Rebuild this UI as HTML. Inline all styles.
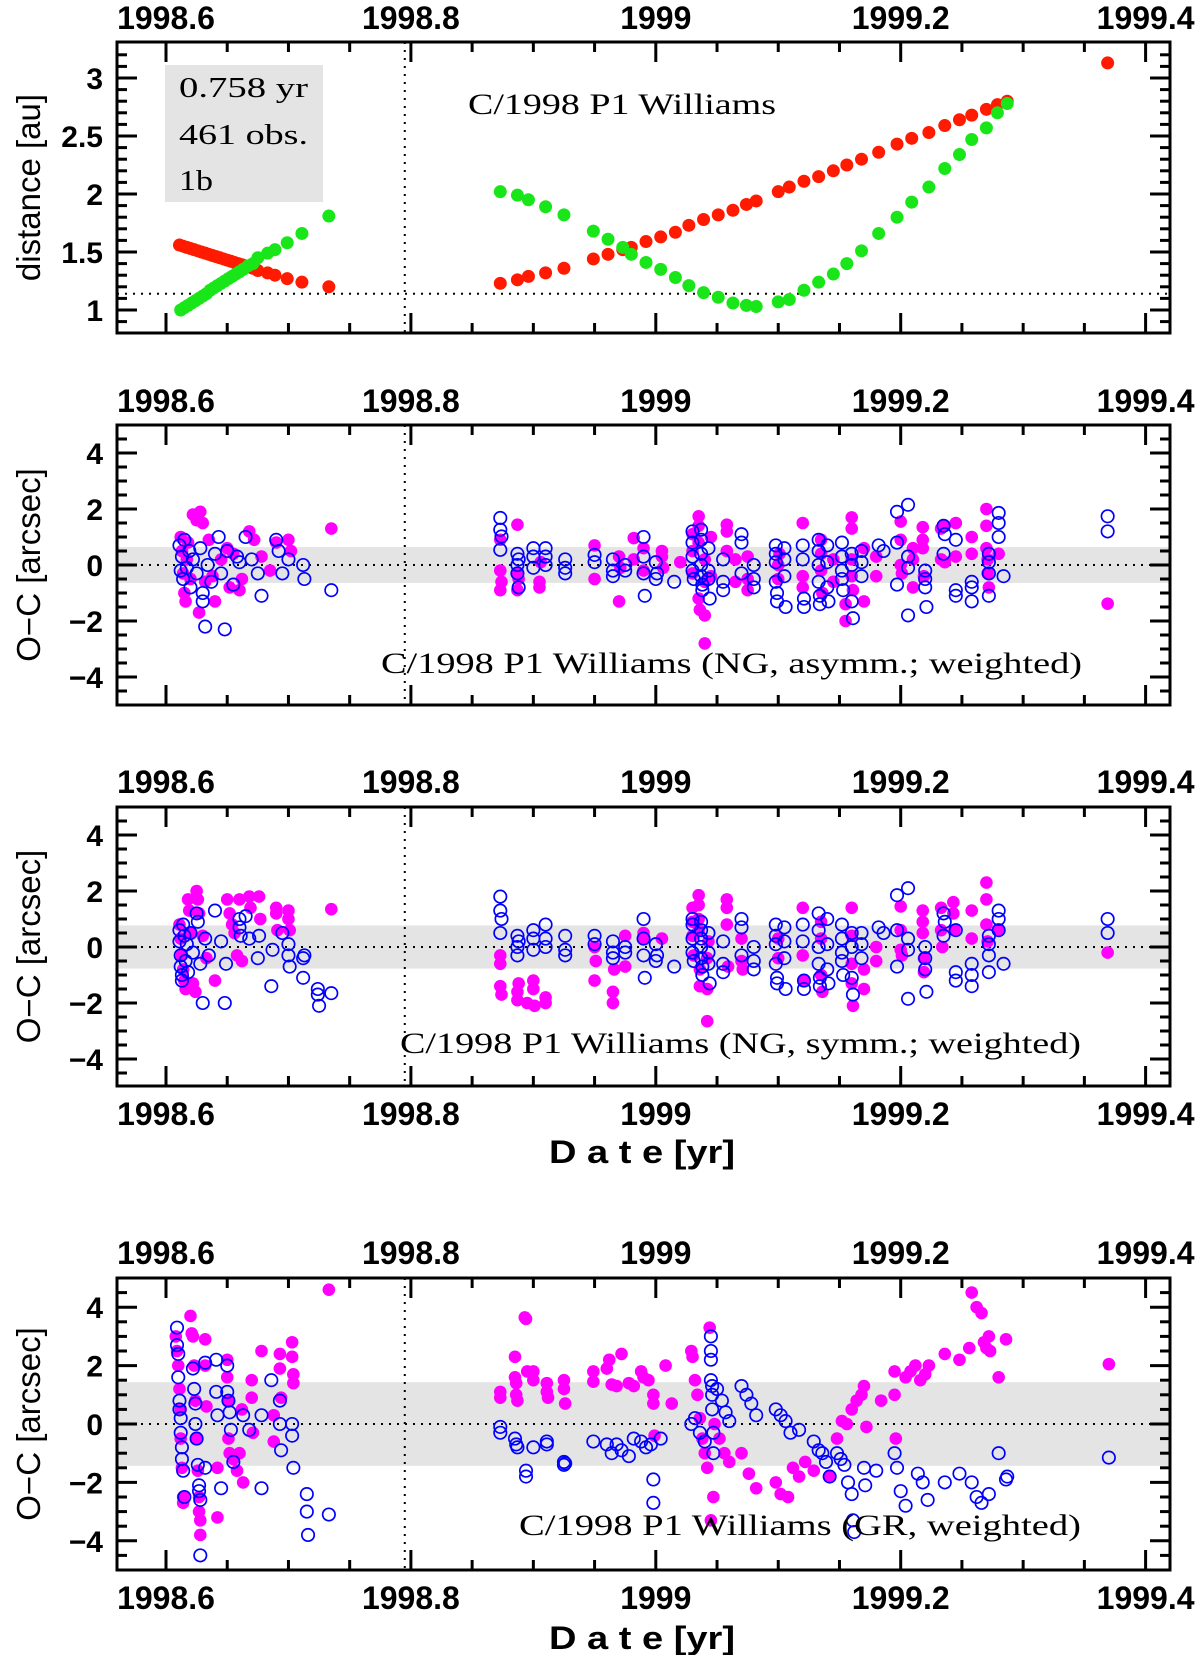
<!DOCTYPE html>
<html><head><meta charset="utf-8">
<style>
html,body{margin:0;padding:0;background:#fff;}
svg{display:block;}
.tk{font-family:"Liberation Sans",sans-serif;font-weight:bold;}
.sr{font-family:"Liberation Serif",serif;}
</style></head>
<body>
<svg id="fig" width="1200" height="1655" viewBox="0 0 1200 1655" xmlns="http://www.w3.org/2000/svg"></svg>
<script>
// ---------- DATA ----------
const xTickLabels = ["1998.6","1998.8","1999","1999.2","1999.4"];
const xTickYears = [1998.6,1998.8,1999.0,1999.2,1999.4];
const distTickLabels = ["1","1.5","2","2.5","3"];
const ocTickLabels = ["-4","-2","0","2","4"];
const perihelionLine = 1998.795;
const distRefLine = 1.14;
const bandP2 = 0.64, bandP3 = 0.77, bandP4 = 1.43;

// Panel 1: heliocentric (red) and geocentric (green) distance
const distRed = [[1998.611,1.56],[1998.614,1.55],[1998.617,1.54],[1998.620,1.53],[1998.623,1.52],[1998.626,1.51],[1998.629,1.50],[1998.632,1.49],[1998.635,1.48],[1998.638,1.47],[1998.641,1.46],[1998.644,1.45],[1998.647,1.44],[1998.650,1.43],[1998.653,1.42],[1998.656,1.41],[1998.659,1.40],[1998.662,1.39],[1998.665,1.38],[1998.668,1.37],[1998.671,1.36],[1998.675,1.34],[1998.683,1.32],[1998.689,1.30],[1998.699,1.27],[1998.711,1.24],[1998.733,1.20],
[1998.873,1.23],[1998.887,1.26],[1998.896,1.29],[1998.910,1.32],[1998.925,1.36],[1998.949,1.44],[1998.961,1.48],[1998.973,1.52],[1998.980,1.54],[1998.992,1.59],[1999.004,1.63],[1999.016,1.67],[1999.027,1.73],[1999.039,1.78],[1999.051,1.82],[1999.063,1.86],[1999.074,1.91],[1999.082,1.94],[1999.100,2.02],[1999.109,2.06],[1999.121,2.11],[1999.133,2.15],[1999.145,2.20],[1999.156,2.25],[1999.168,2.30],[1999.182,2.36],[1999.197,2.43],[1999.209,2.48],[1999.223,2.53],[1999.236,2.59],[1999.248,2.64],[1999.258,2.68],[1999.270,2.73],[1999.279,2.77],[1999.287,2.80],[1999.369,3.13]];
const distGreen = [[1998.612,1.00],[1998.615,1.02],[1998.618,1.04],[1998.621,1.06],[1998.624,1.08],[1998.627,1.10],[1998.630,1.12],[1998.633,1.14],[1998.636,1.17],[1998.639,1.19],[1998.642,1.21],[1998.645,1.23],[1998.648,1.25],[1998.651,1.27],[1998.654,1.29],[1998.657,1.31],[1998.660,1.33],[1998.663,1.35],[1998.667,1.38],[1998.671,1.40],[1998.675,1.45],[1998.683,1.49],[1998.689,1.52],[1998.699,1.58],[1998.711,1.66],[1998.733,1.81],
[1998.873,2.02],[1998.887,1.99],[1998.896,1.95],[1998.910,1.89],[1998.925,1.82],[1998.949,1.68],[1998.961,1.61],[1998.973,1.54],[1998.980,1.48],[1998.992,1.41],[1999.004,1.35],[1999.016,1.28],[1999.027,1.21],[1999.039,1.15],[1999.051,1.11],[1999.063,1.06],[1999.074,1.04],[1999.082,1.03],[1999.100,1.07],[1999.109,1.09],[1999.121,1.17],[1999.133,1.24],[1999.145,1.31],[1999.156,1.40],[1999.168,1.51],[1999.182,1.66],[1999.197,1.80],[1999.209,1.93],[1999.223,2.06],[1999.236,2.22],[1999.248,2.34],[1999.258,2.47],[1999.270,2.57],[1999.279,2.70],[1999.287,2.78]];

// Panel 2: NG asymm
const p2Mag = [[1998.612,1.0],[1998.613,0.5],[1998.614,-0.3],[1998.615,-1.0],[1998.616,-1.3],[1998.617,0.2],[1998.618,0.8],[1998.620,-0.5],[1998.622,1.8],[1998.625,1.6],[1998.628,1.9],[1998.630,1.5],[1998.627,-1.7],[1998.632,-0.6],[1998.635,0.9],[1998.638,-0.4],[1998.640,-1.3],[1998.645,0.2],[1998.650,0.6],[1998.652,-0.8],[1998.655,0.4],[1998.660,-0.9],[1998.662,-0.5],[1998.668,1.2],[1998.672,0.9],[1998.678,0.3],[1998.685,-0.2],[1998.690,0.8],[1998.700,0.9],[1998.702,0.5],[1998.735,1.3],
[1998.873,0.9],[1998.873,-0.2],[1998.873,-0.9],[1998.874,-0.6],[1998.887,1.44],[1998.887,-0.3],[1998.887,-0.9],[1998.888,-0.5],[1998.905,-0.8],[1998.905,-0.6],[1998.906,0.1],[1998.950,0.7],[1998.950,-0.5],[1998.970,-1.3],[1998.970,0.3],[1998.971,-0.1],[1998.982,0.96],[1998.982,0.2],[1998.990,0.6],[1998.990,-0.2],[1999.005,0.3],[1999.005,0.5],[1999.006,-0.1],[1999.020,0.1],[1999.030,1.1],[1999.030,0.5],[1999.030,-0.3],[1999.035,1.74],[1999.035,1.4],[1999.035,0.8],[1999.035,-1.2],[1999.036,-1.6],[1999.040,0.2],[1999.040,-1.8],[1999.040,-0.6],[1999.040,-2.8],[1999.045,1.0],[1999.045,-0.4],[1999.058,1.44],[1999.058,1.2],[1999.058,0.5],[1999.065,0.2],[1999.065,-0.6],[1999.075,-0.9],[1999.075,-0.5],[1999.075,0.3],[1999.100,0.0],[1999.100,-0.5],[1999.101,0.4],[1999.120,1.5],[1999.120,-0.4],[1999.120,-0.8],[1999.135,0.9],[1999.135,0.4],[1999.135,-0.2],[1999.136,-1.0],[1999.145,-0.6],[1999.145,0.2],[1999.155,-2.0],[1999.155,-1.4],[1999.160,1.7],[1999.160,1.3],[1999.160,0.2],[1999.160,-0.4],[1999.161,-0.9],[1999.170,0.6],[1999.170,-1.3],[1999.180,0.3],[1999.180,-0.4],[1999.200,1.55],[1999.200,0.9],[1999.200,0.0],[1999.201,-0.3],[1999.210,0.6],[1999.210,0.2],[1999.210,-0.8],[1999.218,1.35],[1999.218,0.9],[1999.218,0.6],[1999.219,-0.4],[1999.233,1.3],[1999.233,0.2],[1999.236,1.4],[1999.236,0.1],[1999.245,1.5],[1999.245,0.3],[1999.258,1.0],[1999.258,0.4],[1999.270,2.0],[1999.270,1.4],[1999.270,0.6],[1999.271,0.2],[1999.271,-0.3],[1999.272,-0.8],[1999.280,0.4],[1999.369,-1.38]];
const p2Blue = [[1998.611,0.7],[1998.612,-0.2],[1998.613,0.3],[1998.614,-0.5],[1998.615,0.9],[1998.617,-0.1],[1998.619,0.5],[1998.620,-0.8],[1998.622,0.2],[1998.625,-0.3],[1998.628,0.6],[1998.630,-1.0],[1998.630,-1.3],[1998.632,-2.2],[1998.634,0.0],[1998.637,-0.6],[1998.640,0.4],[1998.643,1.0],[1998.645,-0.3],[1998.648,-2.3],[1998.650,0.5],[1998.655,-0.7],[1998.658,0.3],[1998.660,0.1],[1998.665,1.0],[1998.670,0.2],[1998.675,-0.3],[1998.678,-1.1],[1998.690,0.9],[1998.692,0.5],[1998.695,-0.3],[1998.700,0.2],[1998.712,0.0],[1998.713,-0.5],[1998.735,-0.9],
[1998.873,1.68],[1998.873,1.26],[1998.874,1.02],[1998.873,0.54],[1998.887,0.4],[1998.887,0.0],[1998.887,-0.3],[1998.888,0.2],[1998.888,-0.8],[1998.900,0.6],[1998.900,0.3],[1998.900,-0.1],[1998.910,0.6],[1998.910,0.3],[1998.910,0.0],[1998.926,0.2],[1998.926,-0.1],[1998.926,-0.3],[1998.950,0.36],[1998.950,0.1],[1998.965,0.2],[1998.965,-0.2],[1998.965,-0.4],[1998.975,0.0],[1998.975,-0.2],[1998.990,1.0],[1998.990,0.3],[1998.990,-0.3],[1998.991,-1.1],[1999.000,0.1],[1999.000,-0.5],[1999.001,-0.3],[1999.015,-0.6],[1999.030,1.2],[1999.030,0.8],[1999.030,0.3],[1999.030,-0.2],[1999.031,-0.5],[1999.037,1.26],[1999.037,0.9],[1999.037,0.4],[1999.037,0.0],[1999.037,-0.4],[1999.038,-0.7],[1999.038,-0.9],[1999.043,0.6],[1999.043,-0.2],[1999.043,-0.5],[1999.044,-1.2],[1999.055,0.2],[1999.055,-0.6],[1999.055,-0.9],[1999.070,1.1],[1999.070,0.8],[1999.070,-0.3],[1999.080,0.0],[1999.080,-0.5],[1999.080,-0.8],[1999.098,0.7],[1999.098,0.4],[1999.098,0.1],[1999.098,-0.6],[1999.099,-1.0],[1999.099,-1.3],[1999.105,0.6],[1999.105,0.2],[1999.105,-0.4],[1999.106,-1.5],[1999.120,0.7],[1999.120,0.2],[1999.121,-1.2],[1999.121,-1.5],[1999.133,0.9],[1999.133,0.5],[1999.133,0.0],[1999.133,-0.6],[1999.134,-1.1],[1999.134,-1.4],[1999.140,0.7],[1999.140,0.1],[1999.140,-0.8],[1999.141,-1.3],[1999.152,0.8],[1999.152,0.3],[1999.152,-0.2],[1999.152,-0.5],[1999.153,-0.9],[1999.160,0.4],[1999.160,0.0],[1999.160,-1.3],[1999.161,-1.9],[1999.168,0.5],[1999.168,0.1],[1999.168,-0.4],[1999.182,0.7],[1999.186,0.5],[1999.197,1.9],[1999.197,0.8],[1999.197,-0.7],[1999.206,2.15],[1999.206,0.3],[1999.206,-0.1],[1999.206,-1.8],[1999.220,-0.2],[1999.220,-0.5],[1999.220,-0.8],[1999.221,-1.5],[1999.235,0.4],[1999.235,1.4],[1999.236,1.1],[1999.245,0.9],[1999.245,-0.9],[1999.245,-1.1],[1999.258,-0.6],[1999.258,-0.8],[1999.258,-1.3],[1999.272,0.4],[1999.272,0.1],[1999.272,-0.3],[1999.272,-1.1],[1999.280,1.86],[1999.280,1.5],[1999.280,1.0],[1999.284,-0.4],[1999.369,1.74],[1999.369,1.2]];

// Panel 3: NG symm
const p3Mag = [[1998.611,0.8],[1998.612,0.3],[1998.613,-0.3],[1998.614,-0.8],[1998.615,-1.2],[1998.616,-1.5],[1998.618,1.7],[1998.619,1.3],[1998.620,0.5],[1998.622,-1.3],[1998.624,-1.6],[1998.625,2.0],[1998.626,1.7],[1998.627,1.2],[1998.630,0.4],[1998.633,-0.4],[1998.640,-1.2],[1998.650,1.7],[1998.652,1.2],[1998.654,0.8],[1998.656,0.5],[1998.658,-0.3],[1998.660,1.7],[1998.662,-0.5],[1998.668,1.8],[1998.669,1.4],[1998.676,1.8],[1998.677,1.0],[1998.690,1.4],[1998.690,1.2],[1998.691,0.6],[1998.700,1.3],[1998.700,1.0],[1998.701,0.6],[1998.735,1.35],
[1998.873,-0.3],[1998.873,-0.6],[1998.873,-1.4],[1998.874,-1.7],[1998.887,-1.6],[1998.887,-1.9],[1998.888,-1.3],[1998.895,-2.0],[1998.900,-1.2],[1998.900,-1.5],[1998.901,-2.1],[1998.910,-2.0],[1998.910,-1.8],[1998.950,-1.2],[1998.950,0.0],[1998.951,-0.5],[1998.965,-1.6],[1998.965,-2.0],[1998.966,-0.8],[1998.975,-0.7],[1998.975,0.4],[1998.990,0.3],[1998.990,0.5],[1999.005,0.3],[1999.030,1.4],[1999.030,0.9],[1999.030,0.4],[1999.031,-0.3],[1999.035,1.85],[1999.035,1.5],[1999.035,1.0],[1999.035,0.6],[1999.036,-0.8],[1999.036,-1.4],[1999.042,-2.65],[1999.042,-1.5],[1999.042,-0.4],[1999.043,0.2],[1999.058,1.7],[1999.058,1.4],[1999.058,0.8],[1999.059,-0.7],[1999.070,0.3],[1999.070,-0.5],[1999.071,-0.8],[1999.100,0.3],[1999.100,-0.4],[1999.120,1.4],[1999.120,-0.3],[1999.121,-1.2],[1999.135,0.9],[1999.135,0.3],[1999.135,-1.0],[1999.136,-1.6],[1999.160,1.4],[1999.160,0.4],[1999.160,-0.6],[1999.160,-1.3],[1999.161,-2.1],[1999.170,-0.8],[1999.170,-1.5],[1999.180,0.0],[1999.180,-0.5],[1999.200,1.45],[1999.200,0.6],[1999.200,-0.1],[1999.201,-0.3],[1999.218,1.3],[1999.218,0.9],[1999.218,0.5],[1999.219,-0.4],[1999.219,-0.9],[1999.233,1.4],[1999.233,0.6],[1999.234,0.0],[1999.243,1.6],[1999.243,1.2],[1999.244,0.6],[1999.258,1.3],[1999.258,0.3],[1999.270,2.3],[1999.270,1.7],[1999.270,0.8],[1999.271,0.2],[1999.280,0.6],[1999.369,-0.2]];
const p3Blue = [[1998.611,0.6],[1998.611,0.2],[1998.612,-0.3],[1998.612,-0.7],[1998.613,-1.0],[1998.613,-1.2],[1998.614,0.8],[1998.615,0.4],[1998.616,-0.5],[1998.617,0.1],[1998.618,-0.9],[1998.620,0.5],[1998.622,-0.2],[1998.625,1.2],[1998.626,0.9],[1998.628,-0.6],[1998.630,-2.0],[1998.632,0.3],[1998.635,-0.3],[1998.640,1.3],[1998.645,0.2],[1998.648,-2.0],[1998.649,-0.6],[1998.660,1.0],[1998.660,0.7],[1998.661,0.4],[1998.665,1.1],[1998.668,0.3],[1998.675,-0.4],[1998.676,0.4],[1998.686,-1.4],[1998.687,-0.1],[1998.695,0.5],[1998.700,0.1],[1998.700,-0.3],[1998.701,-0.7],[1998.712,-1.1],[1998.712,-0.4],[1998.713,-0.3],[1998.724,-1.5],[1998.724,-1.7],[1998.725,-2.1],[1998.735,-1.65],
[1998.873,1.8],[1998.873,1.3],[1998.874,1.0],[1998.873,0.5],[1998.887,0.4],[1998.887,0.0],[1998.887,-0.3],[1998.888,0.2],[1998.900,0.6],[1998.900,0.3],[1998.900,-0.1],[1998.910,0.8],[1998.910,0.3],[1998.910,0.0],[1998.926,0.4],[1998.926,-0.1],[1998.926,-0.3],[1998.950,0.4],[1998.950,0.1],[1998.965,0.2],[1998.965,-0.2],[1998.965,-0.4],[1998.975,0.0],[1998.975,-0.2],[1998.990,1.0],[1998.990,0.3],[1998.990,-0.3],[1998.991,-1.1],[1999.000,0.1],[1999.000,-0.5],[1999.001,-0.3],[1999.015,-0.7],[1999.030,1.0],[1999.030,0.8],[1999.030,0.3],[1999.030,-0.2],[1999.031,-0.5],[1999.037,0.9],[1999.037,0.6],[1999.037,0.3],[1999.037,0.0],[1999.037,-0.4],[1999.038,-0.7],[1999.038,-1.0],[1999.043,0.5],[1999.043,-0.2],[1999.043,-0.6],[1999.044,-1.3],[1999.055,0.2],[1999.055,-0.6],[1999.055,-0.9],[1999.070,1.0],[1999.070,0.7],[1999.070,-0.3],[1999.080,0.0],[1999.080,-0.5],[1999.080,-0.8],[1999.098,0.8],[1999.098,0.4],[1999.098,0.1],[1999.098,-0.6],[1999.099,-1.1],[1999.099,-1.3],[1999.105,0.7],[1999.105,0.2],[1999.105,-0.4],[1999.106,-1.5],[1999.120,0.8],[1999.120,0.2],[1999.121,-1.2],[1999.121,-1.5],[1999.133,1.2],[1999.133,0.6],[1999.133,0.0],[1999.133,-0.6],[1999.134,-1.1],[1999.134,-1.4],[1999.140,1.0],[1999.140,0.1],[1999.140,-0.8],[1999.141,-1.3],[1999.152,0.8],[1999.152,0.3],[1999.152,-0.2],[1999.152,-0.5],[1999.153,-1.0],[1999.160,0.5],[1999.160,0.0],[1999.160,-1.1],[1999.161,-1.7],[1999.168,0.5],[1999.168,0.1],[1999.168,-0.4],[1999.182,0.7],[1999.186,0.5],[1999.197,1.85],[1999.197,0.6],[1999.197,-0.7],[1999.206,2.1],[1999.206,0.3],[1999.206,-0.1],[1999.206,-1.85],[1999.220,0.0],[1999.220,-0.4],[1999.220,-0.8],[1999.221,-1.6],[1999.235,0.4],[1999.235,1.2],[1999.236,0.9],[1999.245,0.6],[1999.245,-0.9],[1999.245,-1.2],[1999.258,-0.6],[1999.258,-1.0],[1999.258,-1.4],[1999.272,0.4],[1999.272,0.1],[1999.272,-0.3],[1999.272,-0.9],[1999.280,1.3],[1999.280,1.0],[1999.280,0.6],[1999.284,-0.6],[1999.369,1.0],[1999.369,0.5]];

// Panel 4: GR
const p4Mag = [[1998.608,3.0],[1998.609,2.5],[1998.610,2.0],[1998.611,1.2],[1998.612,0.5],[1998.612,-0.5],[1998.613,-1.5],[1998.614,-2.5],[1998.614,-2.7],[1998.620,3.7],[1998.621,3.1],[1998.622,3.0],[1998.623,2.0],[1998.624,0.8],[1998.625,-0.5],[1998.626,-1.6],[1998.627,-2.5],[1998.627,-3.0],[1998.628,-3.8],[1998.628,-3.3],[1998.632,2.9],[1998.632,2.0],[1998.633,0.6],[1998.642,-1.5],[1998.642,-3.2],[1998.650,2.2],[1998.650,1.6],[1998.651,0.8],[1998.651,-0.5],[1998.652,-1.0],[1998.655,-1.2],[1998.658,-1.6],[1998.660,-1.0],[1998.662,0.5],[1998.663,-2.0],[1998.670,1.5],[1998.670,0.9],[1998.671,-0.3],[1998.678,2.5],[1998.688,0.3],[1998.688,-0.6],[1998.693,2.4],[1998.693,1.9],[1998.694,0.9],[1998.703,2.8],[1998.703,2.3],[1998.704,1.7],[1998.704,1.4],[1998.733,4.6],
[1998.873,1.1],[1998.873,0.9],[1998.885,2.3],[1998.885,1.6],[1998.886,1.4],[1998.886,1.0],[1998.887,0.8],[1998.893,3.65],[1998.894,3.6],[1998.895,1.8],[1998.900,1.8],[1998.900,1.5],[1998.911,1.4],[1998.911,1.1],[1998.912,0.9],[1998.925,1.5],[1998.925,1.2],[1998.926,0.7],[1998.949,1.8],[1998.949,1.45],[1998.960,1.9],[1998.962,2.2],[1998.964,1.35],[1998.968,1.3],[1998.972,2.4],[1998.978,1.4],[1998.982,1.3],[1998.988,1.8],[1998.990,1.6],[1998.994,1.5],[1998.998,1.0],[1998.998,0.7],[1998.999,-0.4],[1999.008,2.0],[1999.013,0.7],[1999.029,2.5],[1999.030,2.3],[1999.032,1.5],[1999.034,1.0],[1999.036,0.2],[1999.038,-0.5],[1999.040,-1.0],[1999.042,-1.5],[1999.044,3.3],[1999.045,-3.3],[1999.047,-2.5],[1999.048,0.0],[1999.052,-0.5],[1999.056,-1.0],[1999.060,-1.3],[1999.070,-1.0],[1999.076,-1.7],[1999.082,-2.2],[1999.098,-2.0],[1999.102,-2.4],[1999.108,-2.5],[1999.112,-1.5],[1999.117,-1.8],[1999.122,-1.3],[1999.129,-1.6],[1999.142,-1.8],[1999.148,-0.5],[1999.152,0.1],[1999.156,0.0],[1999.160,0.5],[1999.164,0.8],[1999.168,1.0],[1999.172,-0.1],[1999.170,1.3],[1999.184,0.8],[1999.195,1.8],[1999.195,1.0],[1999.196,-0.5],[1999.204,1.6],[1999.208,1.8],[1999.212,2.0],[1999.216,1.5],[1999.220,1.7],[1999.223,2.0],[1999.236,2.4],[1999.248,2.2],[1999.256,2.6],[1999.258,4.5],[1999.262,4.0],[1999.266,3.8],[1999.268,2.8],[1999.270,2.6],[1999.272,3.0],[1999.273,2.5],[1999.280,1.6],[1999.286,2.9],[1999.370,2.05]];
const p4Blue = [[1998.609,3.3],[1998.609,2.7],[1998.610,2.4],[1998.610,1.6],[1998.611,0.8],[1998.611,0.5],[1998.612,0.2],[1998.612,-0.3],[1998.613,-0.8],[1998.613,-1.2],[1998.614,-1.6],[1998.615,-2.5],[1998.622,1.9],[1998.623,1.2],[1998.624,0.7],[1998.624,0.0],[1998.625,-0.5],[1998.626,-1.4],[1998.627,-2.1],[1998.627,-2.3],[1998.628,-2.6],[1998.628,-4.5],[1998.632,2.1],[1998.632,-1.5],[1998.641,2.2],[1998.641,1.1],[1998.642,0.3],[1998.645,-2.2],[1998.650,2.0],[1998.650,1.1],[1998.651,0.8],[1998.652,0.4],[1998.653,-0.2],[1998.655,-1.3],[1998.663,0.3],[1998.668,-0.2],[1998.678,0.3],[1998.678,-2.2],[1998.686,1.5],[1998.693,0.8],[1998.693,0.0],[1998.694,-0.9],[1998.703,0.0],[1998.703,-0.4],[1998.704,-1.5],[1998.715,-2.4],[1998.715,-3.0],[1998.716,-3.8],[1998.733,-3.1],
[1998.873,-0.1],[1998.873,-0.3],[1998.885,-0.5],[1998.886,-0.7],[1998.887,-0.8],[1998.894,-1.6],[1998.894,-1.8],[1998.900,-0.8],[1998.911,-0.6],[1998.911,-0.7],[1998.925,-1.3],[1998.925,-1.4],[1998.926,-1.35],[1998.949,-0.6],[1998.960,-0.7],[1998.964,-1.0],[1998.968,-0.7],[1998.972,-0.9],[1998.978,-1.1],[1998.982,-0.5],[1998.988,-0.6],[1998.992,-0.8],[1998.996,-0.7],[1999.004,-0.5],[1998.998,-1.9],[1998.998,-2.7],[1999.029,0.0],[1999.032,0.2],[1999.036,-0.3],[1999.040,-0.6],[1999.045,3.0],[1999.045,2.5],[1999.045,2.2],[1999.045,1.5],[1999.046,1.3],[1999.046,1.0],[1999.046,0.5],[1999.047,-0.3],[1999.047,-1.0],[1999.050,1.2],[1999.054,0.8],[1999.057,0.4],[1999.060,0.1],[1999.070,1.3],[1999.074,1.0],[1999.078,0.7],[1999.082,0.3],[1999.098,0.5],[1999.102,0.3],[1999.106,0.1],[1999.110,-0.3],[1999.117,-0.2],[1999.129,-0.6],[1999.133,-0.9],[1999.136,-1.0],[1999.139,-1.3],[1999.142,-1.8],[1999.148,-1.0],[1999.151,-1.2],[1999.154,-1.4],[1999.157,-2.0],[1999.160,-2.4],[1999.161,-3.3],[1999.162,-3.7],[1999.170,-1.5],[1999.171,-2.1],[1999.180,-1.6],[1999.195,-1.0],[1999.197,-1.5],[1999.200,-2.3],[1999.204,-2.8],[1999.214,-1.7],[1999.218,-2.0],[1999.222,-2.6],[1999.236,-2.0],[1999.248,-1.7],[1999.258,-2.0],[1999.262,-2.5],[1999.266,-2.7],[1999.272,-2.4],[1999.280,-1.0],[1999.286,-1.9],[1999.287,-1.8],[1999.370,-1.15]];

// ---------- DRAWING ----------
const NS="http://www.w3.org/2000/svg";
const svg=document.getElementById('fig');
const X0=117, X1=1170;
function xs(yr){ return 166 + (yr-1998.6)*1224.5; }
function mk(tag, attrs, parent){ const e=document.createElementNS(NS,tag); for(const k in attrs) e.setAttribute(k,attrs[k]); (parent||svg).appendChild(e); return e; }
function txt(str, attrs, parent){ const e=mk('text',attrs,parent); e.textContent=str; return e; }

function panel(cfg){
  const g=mk('g',{});
  
  
  const ys = v => cfg.y0 - (v-cfg.v0)*cfg.unit;
  const T=cfg.top, B=cfg.bottom;
  if(cfg.band){ const r=mk('rect',{x:X0,y:ys(cfg.band),width:X1-X0,height:ys(-cfg.band)-ys(cfg.band),fill:'#e4e4e4'},g);
      }
  const hl=mk('line',{x1:X0,x2:X1,y1:ys(cfg.refLine),y2:ys(cfg.refLine),stroke:'#000','stroke-width':2,'stroke-dasharray':'2,6'},g);
   
  const vl=mk('line',{x1:xs(perihelionLine),x2:xs(perihelionLine),y1:T,y2:B,stroke:'#000','stroke-width':2,'stroke-dasharray':'2,6'},g);
   
  cfg.series.forEach(s=>{
    const sg=mk('g',{},g);
    
    
    s.data.forEach(p=>{
      const c = s.open ? mk('circle',{cx:xs(p[0]),cy:ys(p[1]),r:6.2,fill:'none',stroke:s.color,'stroke-width':1.7},sg)
                       : mk('circle',{cx:xs(p[0]),cy:ys(p[1]),r:s.r||6.3,fill:s.color},sg);
      
      
    });
  });
  const tg=mk('g',{stroke:'#000','stroke-width':3},g);
   
  for(let k=0;k<=20;k++){ const yr=1998.55+k*0.05; const x=xs(yr); if(x<X0+2||x>X1-2) continue;
    const major = Math.abs(((yr-1998.6)/0.2)-Math.round((yr-1998.6)/0.2))<1e-6;
    const L = major?20:10;
    mk('line',{x1:x,x2:x,y1:T,y2:T+L},tg); mk('line',{x1:x,x2:x,y1:B,y2:B-L},tg); }
  for(let k=0;k<=cfg.nMinor;k++){ const v=cfg.minorStart+k*cfg.minorStep; const y=ys(v); if(y<T+2||y>B-2) continue;
    const major = Math.abs(v/cfg.majorStep-Math.round(v/cfg.majorStep))<1e-6;
    const L = major?20:10;
    mk('line',{x1:X0,x2:X0+L,y1:y,y2:y},tg); mk('line',{x1:X1,x2:X1-L,y1:y,y2:y},tg); }
  const fr=mk('rect',{x:X0,y:T,width:X1-X0,height:B-T,fill:'none',stroke:'#000','stroke-width':3},g);
   
  cfg.yLabels.forEach((lab,i)=>{ const t=txt(lab.replace('-','\u2212'),{x:103,y:ys(cfg.yLabelVals[i])+11,'text-anchor':'end','font-size':30,class:'tk'},g);
      });
  cfg.xLabelRows.forEach(yy=>{ xTickLabels.forEach((lab,i)=>{ const t=txt(lab,{x:xs(xTickYears[i]),y:yy+2,'text-anchor':'middle','font-size':32,class:'tk'},g);
      }); });
  const cy=(T+B)/2;
  const yt=txt(cfg.yTitle,{x:0,y:0,'text-anchor':'middle','font-size':33,class:'tk',style:'font-weight:normal',transform:`translate(40 ${cy}) rotate(-90)`},g);
   
  return g;
}

panel({name:'distance-panel',top:42,bottom:333,y0:310,v0:1,unit:116,refLine:distRefLine,
  series:[{name:'heliocentric-distance-series',data:distRed,color:'#ff1a00',r:6.5},{name:'geocentric-distance-series',data:distGreen,color:'#19e619',r:6.5}],
  minorStart:0.8,minorStep:0.1,nMinor:26,majorStep:0.5,yLabels:distTickLabels,yLabelVals:[1,1.5,2,2.5,3],xLabelRows:[27],yTitle:'distance [au]'});
panel({name:'oc-ng-asymm-panel',top:425,bottom:705,y0:565,v0:0,unit:28,refLine:0,band:bandP2,
  series:[{name:'ra-residuals',data:p2Mag,color:'#ff00ff'},{name:'dec-residuals',data:p2Blue,color:'#0000ff',open:true}],
  minorStart:-5,minorStep:0.5,nMinor:20,majorStep:2,yLabels:ocTickLabels,yLabelVals:[-4,-2,0,2,4],xLabelRows:[410],yTitle:'O\u2212C [arcsec]'});
panel({name:'oc-ng-symm-panel',top:807,bottom:1086,y0:947,v0:0,unit:28,refLine:0,band:bandP3,
  series:[{name:'ra-residuals',data:p3Mag,color:'#ff00ff'},{name:'dec-residuals',data:p3Blue,color:'#0000ff',open:true}],
  minorStart:-5,minorStep:0.5,nMinor:20,majorStep:2,yLabels:ocTickLabels,yLabelVals:[-4,-2,0,2,4],xLabelRows:[791,1123],yTitle:'O\u2212C [arcsec]'});
panel({name:'oc-gr-panel',top:1278,bottom:1570,y0:1424,v0:0,unit:29.2,refLine:0,band:bandP4,
  series:[{name:'ra-residuals',data:p4Mag,color:'#ff00ff'},{name:'dec-residuals',data:p4Blue,color:'#0000ff',open:true}],
  minorStart:-5,minorStep:0.5,nMinor:20,majorStep:2,yLabels:ocTickLabels,yLabelVals:[-4,-2,0,2,4],xLabelRows:[1262,1607],yTitle:'O\u2212C [arcsec]'});

const box=mk('rect',{x:165,y:65,width:158,height:137,fill:'#e4e4e4'});
 
[['0.758 yr',97,129],['461 obs.',144,129],['1b',190,34]].forEach(a=>{ const t=txt(a[0],{x:179,y:a[1],'font-size':29,class:'sr',textLength:a[2],lengthAdjust:'spacingAndGlyphs'});
    });
[['C/1998 P1 Williams',468,114,308],['C/1998 P1 Williams (NG, asymm.; weighted)',381,673,701],['C/1998 P1 Williams (NG, symm.; weighted)',400,1053,681],['C/1998 P1 Williams (GR, weighted)',519,1535,562]].forEach(a=>{
  const t=txt(a[0],{x:a[1],y:a[2],'font-size':30,class:'sr',textLength:a[3],lengthAdjust:'spacingAndGlyphs'});
    });
[1163,1649].forEach(yy=>{ const t=txt('D a t e [yr]',{x:549,y:yy,'font-size':32,class:'tk',textLength:186,lengthAdjust:'spacingAndGlyphs'});
    });
</script>
</body></html>
